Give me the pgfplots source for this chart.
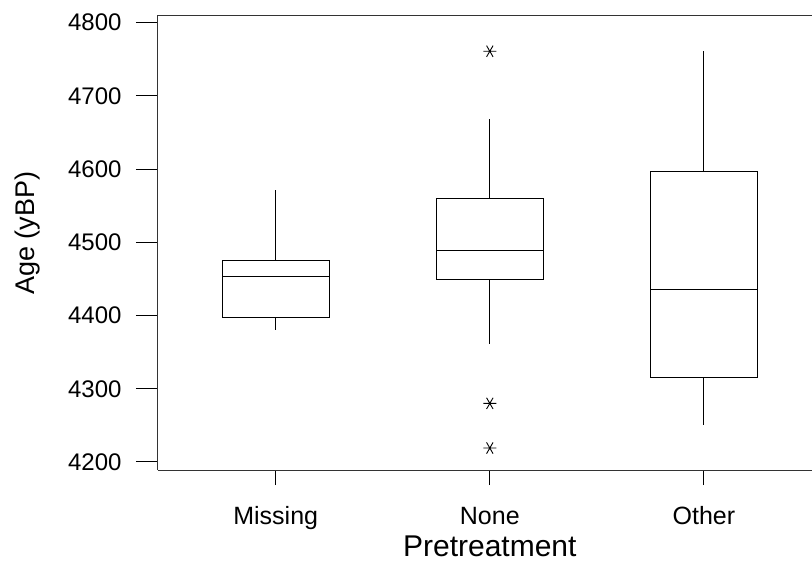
\documentclass[border=0pt]{standalone}
\usepackage{fontspec}
\setmainfont{Liberation Sans}
\usepackage{pgfplots}
\pgfplotsset{compat=1.18}
\begin{document}
\begin{tikzpicture}
\begin{axis}[
  scale only axis,
  width=654pt, height=455pt,
  xmin=0.45, xmax=3.505,
  ymin=4189, ymax=4810.5,
  axis x line*=box, axis y line*=left,
  axis line style={-, line width=1pt, black!80},
  xtick={1,2,3},
  xticklabels={Missing,None,Other},
  ytick={4200,4300,4400,4500,4600,4700,4800},
  xtick pos=bottom, ytick pos=left,
  tick align=outside,
  major tick length=22pt,
  xtick style={/pgfplots/major tick length=15pt, line width=1pt, black},
  ytick style={line width=1pt, black},
  /pgf/number format/assume math mode=true,
  /pgf/number format/1000 sep={},
  yticklabel style={font=\fontsize{24}{24}\selectfont, xshift=-11pt},
  xticklabel style={font=\fontsize{25}{25}\selectfont, anchor=base, yshift=-32pt},
  clip=false,
]
% Missing: whisker 4380..4571, box 4397..4475, median 4453
\addplot[black, line width=1pt] coordinates {(0.75,4397) (1.25,4397) (1.25,4475) (0.75,4475) (0.75,4397)};
\addplot[black, line width=1pt] coordinates {(0.75,4453) (1.25,4453)};
\addplot[black, line width=1pt] coordinates {(1,4475) (1,4571)};
\addplot[black, line width=1pt] coordinates {(1,4397) (1,4380)};
% None: whisker 4361..4669, box 4449..4560, median 4489
\addplot[black, line width=1pt] coordinates {(1.75,4449) (2.25,4449) (2.25,4560) (1.75,4560) (1.75,4449)};
\addplot[black, line width=1pt] coordinates {(1.75,4489) (2.25,4489)};
\addplot[black, line width=1pt] coordinates {(2,4560) (2,4669)};
\addplot[black, line width=1pt] coordinates {(2,4449) (2,4361)};
\addplot[black, only marks, mark=asterisk, mark size=6.5pt, mark options={line width=0.9pt, rotate=90}] coordinates {(2,4761) (2,4280) (2,4219)};
% Other: whisker 4250..4761, box 4315..4597, median 4436
\addplot[black, line width=1pt] coordinates {(2.75,4315) (3.25,4315) (3.25,4597) (2.75,4597) (2.75,4315)};
\addplot[black, line width=1pt] coordinates {(2.75,4436) (3.25,4436)};
\addplot[black, line width=1pt] coordinates {(3,4597) (3,4761)};
\addplot[black, line width=1pt] coordinates {(3,4315) (3,4250)};
\node[rotate=90, font=\fontsize{27}{27}\selectfont] at ([xshift=-130pt]rel axis cs:0,0.52) {Age (yBP)};
\node[anchor=base, inner sep=0pt, font=\fontsize{30}{30}\selectfont] at ([yshift=-86pt]axis cs:2,4189) {Pretreatment};
\coordinate (BBsw) at ([xshift=-158pt, yshift=-91pt]rel axis cs:0,0);
\coordinate (BBne) at ([yshift=15pt]rel axis cs:1,1);
\end{axis}
\pgfresetboundingbox
\path[use as bounding box] (BBsw) rectangle (BBne);
\end{tikzpicture}
\end{document}
